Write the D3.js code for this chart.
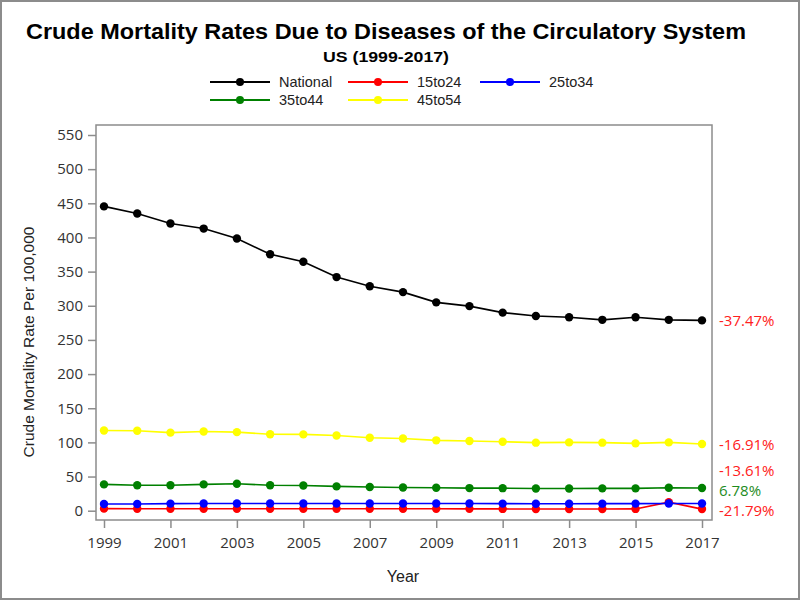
<!DOCTYPE html>
<html><head><meta charset="utf-8">
<script src="https://cdn.jsdelivr.net/npm/d3@7"></script>
<style>body{margin:0;background:#fff;}svg{display:block;}</style>
</head><body>
<svg id="c" width="800" height="600"></svg>
<script>
const years = [1999,2000,2001,2002,2003,2004,2005,2006,2007,2008,2009,2010,2011,2012,2013,2014,2015,2016,2017];
const national = [445.5,435,420.5,413,398.5,375.5,364.5,342,328.5,320,305,299.5,290,285,283.3,279.4,283.3,279.4,278.6];
const age15to24 = [3.0,2.9,2.9,2.9,2.9,2.9,2.9,2.9,2.9,2.8,2.8,2.7,2.6,2.5,2.5,2.5,2.6,12.5,2.35];
const age25to34 = [9.8,9.9,10.4,10.5,10.6,10.6,10.6,10.6,10.6,10.6,10.5,10.5,10.4,10.2,10.2,10.3,10.4,10.6,10.5];
const age35to44 = [38.5,37.2,37.2,38.5,39.4,37.2,37.0,35.6,34.7,34.0,33.6,33.1,33.0,32.6,32.6,32.7,32.7,33.6,33.3];
const age45to54 = [117.5,117,114.3,116,115,112,111.7,110,106.8,105.8,103,102,101,99.6,100,99.6,98.6,100,97.6];
const seriesNames = ["National","15to24","25to34","35to44","45to54"];
const seriesColors = ["#000000","#ff0000","#0000ff","#008000","#ffff00"];
const changeLabels = ["-37.47%","-21.79%","6.78%","-13.61%","-16.91%"];
const yTicks = [0,50,100,150,200,250,300,350,400,450,500,550];
const xTicks = [1999,2001,2003,2005,2007,2009,2011,2013,2015,2017];

const seriesData = [national, age15to24, age25to34, age35to44, age45to54];
const svg = d3.select("#c");
const font = "'Open Sans', 'Noto Sans', sans-serif";
const arial = "'Liberation Sans', Arial, sans-serif";

// outer border
svg.append("rect").attr("x",1).attr("y",1).attr("width",798).attr("height",598)
  .attr("fill","#fff").attr("stroke","#8c8c8c").attr("stroke-width",2);

const frame = {l:96, r:712, t:125, b:520};
const x = d3.scaleLinear().domain([1999,2017]).range([104,702]);
const y = d3.scaleLinear().domain([0,550]).range([510.7,135]);

// Titles
svg.append("text").attr("x",386).attr("y",39).attr("text-anchor","middle")
  .attr("font-family",arial).attr("font-weight","bold")
  .attr("font-size",22).attr("fill","#000").attr("textLength",720).attr("lengthAdjust","spacingAndGlyphs")
  .text("Crude Mortality Rates Due to Diseases of the Circulatory System");
svg.append("text").attr("x",386).attr("y",62).attr("text-anchor","middle")
  .attr("font-family",arial).attr("font-weight","bold")
  .attr("font-size",15).attr("fill","#000").attr("textLength",126).attr("lengthAdjust","spacingAndGlyphs")
  .text("US (1999-2017)");

// Legend
const legPos = [[210,82],[348,82],[480,82],[210,100],[348,100]];
seriesNames.forEach((n,i)=>{
  const [lx,ly] = legPos[i];
  const g = svg.append("g");
  g.append("line").attr("x1",lx).attr("x2",lx+60).attr("y1",ly).attr("y2",ly)
    .attr("stroke",seriesColors[i]).attr("stroke-width",2);
  g.append("circle").attr("cx",lx+30).attr("cy",ly).attr("r",4).attr("fill",seriesColors[i]);
  g.append("text").attr("x",lx+69).attr("y",ly+5).attr("font-family",arial).attr("font-size",14.5)
    .attr("fill","#222").text(n);
});

// Axes
const yAxis = d3.axisLeft(y).tickValues(yTicks).tickSize(8).tickPadding(5);
const yg = svg.append("g").attr("transform",`translate(${frame.l},0)`).call(yAxis);
const xAxis = d3.axisBottom(x).tickValues(xTicks).tickFormat(d3.format("d")).tickSize(8).tickPadding(9);
const xg = svg.append("g").attr("transform",`translate(0,${frame.b})`).call(xAxis);
[yg,xg].forEach(g=>{
  g.select(".domain").remove();
  g.selectAll(".tick line").attr("stroke","#8c8c8c").attr("stroke-width",1.5);
  g.selectAll(".tick text").attr("font-family",font).attr("font-size",15).attr("fill","#333");
});

// Frame
svg.append("rect").attr("x",frame.l).attr("y",frame.t).attr("width",frame.r-frame.l).attr("height",frame.b-frame.t)
  .attr("fill","none").attr("stroke","#8c8c8c").attr("stroke-width",1.5);

// Axis labels
svg.append("text").attr("transform","translate(34,342) rotate(-90)").attr("text-anchor","middle")
  .attr("font-family",arial).attr("font-size",15.5).attr("fill","#222").text("Crude Mortality Rate Per 100,000");
svg.append("text").attr("x",403).attr("y",582).attr("text-anchor","middle")
  .attr("font-family",arial).attr("font-size",16).attr("fill","#222").text("Year");

// Lines
const line = d3.line().x((d,i)=>x(years[i])).y(d=>y(d));
const drawOrder = [4,3,1,2,0];
drawOrder.forEach(i=>{
  const g = svg.append("g");
  g.append("path").datum(seriesData[i]).attr("d",line).attr("fill","none")
    .attr("stroke",seriesColors[i]).attr("stroke-width",1.6);
  g.selectAll("circle").data(seriesData[i]).enter().append("circle")
    .attr("cx",(d,j)=>x(years[j])).attr("cy",d=>y(d)).attr("r",4.2).attr("fill",seriesColors[i]);
});

// Change labels with collision avoidance (from bottom upward)
const labels = seriesData.map((s,i)=>({t:changeLabels[i], y:y(s[s.length-1]), pos:changeLabels[i][0]!=="-"}));
labels.sort((a,b)=>b.y-a.y);
let prev = null;
labels.forEach(l=>{
  if(prev===null){ l.ly = l.y+1.5; }
  else { l.ly = Math.min(l.y, prev-20); }
  prev = l.ly;
});
labels.forEach(l=>{
  svg.append("text").attr("x",719).attr("y",l.ly+5.5).attr("font-family",font).attr("font-size",15)
    .attr("fill", l.pos ? "#1e8c1e" : "#ff2020").text(l.t);
});
</script>
</body></html>
